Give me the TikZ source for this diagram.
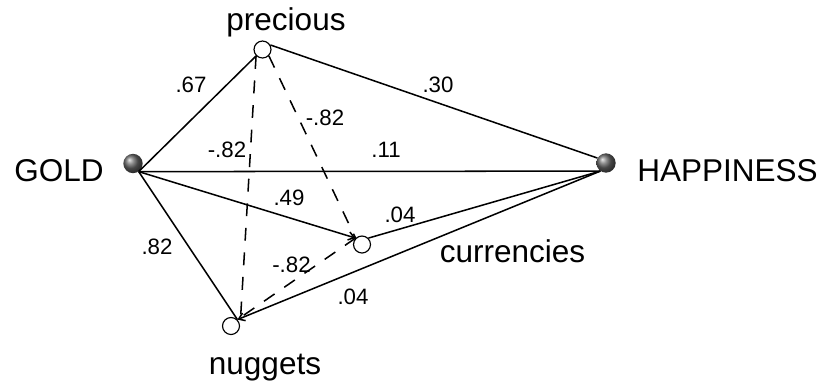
\documentclass[tikz,border=0pt]{standalone}
\usepackage{fontspec}
\setmainfont{Liberation Sans}
\usetikzlibrary{arrows.meta}

\tikzset{
  pole/.style={circle, inner sep=0pt, minimum size=5.8mm, shading=ball, ball color=gray!80!black},
  concept/.style={circle, draw, fill=white, inner sep=0pt, minimum size=5.1mm, line width=1pt},
  tag/.style={inner sep=0pt, font=\fontsize{26.9}{32}\selectfont},
  weight/.style={inner sep=0pt, font=\fontsize{19}{22}\selectfont},
  link/.style={line width=1.3pt},
  neg/.style={line width=1.3pt, dash pattern=on 11pt off 10pt},
  barb/.style={-{Straight Barb[length=5pt, width=7pt]}}
}

\begin{document}
\begin{tikzpicture}[x=0.3mm, y=-0.3mm]
    \useasboundingbox (0,0) rectangle (822,382);

    % Poles
    \node[pole] (gold) at (133,163.5) {};
    \node[pole] (happy) at (606,163) {};
    \node[tag, anchor=base] (goldtext) at (59,181) {GOLD};
    \node[tag, anchor=base] (happytext) at (727.5,181) {HAPPINESS};

    % Concepts
    \node[concept] (precious) at (262.5,49.5) {};
    \node[concept] (currencies) at (362,244.5) {};
    \node[concept] (nuggets) at (231,326) {};
    \node[tag, anchor=base] (precioustext) at (286,30.5) {precious};
    \node[tag, anchor=base] (currenciestext) at (512.5,262) {currencies};
    \node[tag, anchor=base] (nuggetstext) at (265,374) {nuggets};

    % Positive links
    \draw[link] (gold.-55) -- (precious.south west);
    \draw[link] (gold.-55) -- (happy.-125);
    \draw[link, barb] (gold.-55) -- (currencies.north west);
    \draw[link] (gold.-55) -- (nuggets.north east);
    \draw[link] (precious.30) -- (happy.150);
    \draw[link] (currencies.45) -- (happy.-125);
    \draw[link, barb] (happy.-125) -- (nuggets.north east);

    % Negative links
    \draw[neg] (precious.south west) -- (nuggets.east);
    \draw[neg] (precious.south east) -- (currencies.north west);
    \draw[neg] (currencies.north west) -- (nuggets.north east);

    % Weights
    \node[weight] (w1) at (191,85) {.67};
    \node[weight] (w2) at (438,85) {.30};
    \node[weight] (w3) at (325,118) {-.82};
    \node[weight] (w4) at (227,150) {-.82};
    \node[weight] (w5) at (386,150) {.11};
    \node[weight] (w6) at (289,198) {.49};
    \node[weight] (w7) at (400,215) {.04};
    \node[weight] (w8) at (157,247) {.82};
    \node[weight] (w9) at (291.5,264.5) {-.82};
    \node[weight] (w10) at (353,296.5) {.04};
\end{tikzpicture}
\end{document}
